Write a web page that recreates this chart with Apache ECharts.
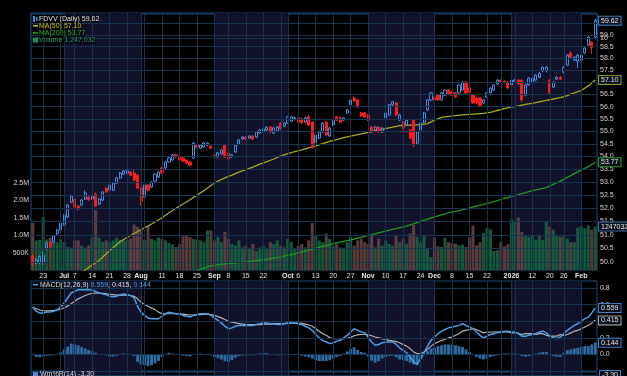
<!DOCTYPE html>
<html>
<head>
<meta charset="utf-8">
<script src="https://cdn.jsdelivr.net/npm/echarts@6/dist/echarts.min.js"></script>
<style>
  html, body { margin: 0; padding: 0; background: #000; }
  #chart { width: 627px; height: 376px; }
</style>
</head>
<body>
<div id="chart"></div>
<script>
// trading days, Jun 17 2025 .. Feb 6 2026
const dates = [
  '06-17','06-18','06-20','06-23','06-24','06-25','06-26','06-27','06-30',
  '07-01','07-02','07-03','07-07','07-08','07-09','07-10','07-11','07-14','07-15','07-16','07-17','07-18','07-21','07-22','07-23','07-24','07-25','07-28','07-29','07-30','07-31',
  '08-01','08-04','08-05','08-06','08-07','08-08','08-11','08-12','08-13','08-14','08-15','08-18','08-19','08-20','08-21','08-22','08-25','08-26','08-27','08-28','08-29',
  '09-02','09-03','09-04','09-05','09-08','09-09','09-10','09-11','09-12','09-15','09-16','09-17','09-18','09-19','09-22','09-23','09-24','09-25','09-26','09-29','09-30',
  '10-01','10-02','10-03','10-06','10-07','10-08','10-09','10-10','10-13','10-14','10-15','10-16','10-17','10-20','10-21','10-22','10-23','10-24','10-27','10-28','10-29','10-30','10-31',
  '11-03','11-04','11-05','11-06','11-07','11-10','11-11','11-12','11-13','11-14','11-17','11-18','11-19','11-20','11-21','11-24','11-25','11-26','11-28',
  '12-01','12-02','12-03','12-04','12-05','12-08','12-09','12-10','12-11','12-12','12-15','12-16','12-17','12-18','12-19','12-22','12-23','12-24','12-26','12-29','12-30','12-31',
  '01-02','01-05','01-06','01-07','01-08','01-09','01-12','01-13','01-14','01-15','01-16','01-20','01-21','01-22','01-23','01-26','01-27','01-28','01-29','01-30',
  '02-02','02-03','02-04','02-05','02-06'
];

const opens = [
  50.22,49.96,49.98,50.00,50.52,50.72,50.74,51.04,51.18,51.37,
  51.67,52.23,52.35,52.08,52.12,52.35,52.42,52.35,52.54,52.16,
  52.31,52.77,52.69,52.69,52.96,53.16,53.31,53.35,53.39,53.35,
  53.27,52.77,52.42,52.89,52.81,53.04,53.20,53.55,53.55,53.78,
  53.86,54.06,53.98,53.94,53.86,53.78,53.94,54.45,54.33,54.37,
  54.45,54.41,54.06,53.98,54.10,54.45,54.14,53.98,54.18,54.49,
  54.69,54.77,54.73,54.81,54.77,54.93,54.97,55.05,55.17,54.93,
  55.01,55.33,55.21,55.33,55.41,55.50,55.54,55.50,55.37,55.58,
  55.37,54.53,54.73,54.97,55.37,54.81,55.25,55.58,55.54,55.45,
  55.74,56.07,56.35,56.27,55.74,55.74,55.66,55.17,55.05,55.17,
  54.97,55.54,55.66,56.07,56.15,55.45,55.37,55.25,55.05,55.45,
  54.53,55.05,55.37,55.86,56.27,56.39,56.47,56.27,56.47,56.68,
  56.60,56.56,56.56,56.68,57.01,56.76,56.47,56.35,56.35,56.15,
  56.39,56.56,56.68,56.93,57.09,57.05,57.01,56.89,57.01,57.09,
  57.09,56.47,56.89,57.01,57.09,57.21,57.47,57.47,57.09,56.80,
  57.13,57.21,57.42,57.72,58.23,57.93,57.88,57.93,58.23,58.57,
  58.70,58.91
];
const closes = [
  49.92,50.07,50.20,50.26,50.70,50.56,50.96,51.18,51.44,51.74,
  52.12,52.46,52.04,51.97,52.31,52.58,52.31,52.46,52.08,52.35,
  52.62,52.62,52.89,52.96,53.16,53.35,53.43,53.43,53.27,53.08,
  52.77,52.27,52.89,52.69,53.00,53.31,53.39,53.35,53.78,53.94,
  54.06,53.98,53.86,53.82,53.74,53.66,54.53,54.37,54.45,54.53,
  54.53,54.33,53.98,54.14,54.25,53.98,53.90,54.06,54.45,54.65,
  54.77,54.69,54.81,54.69,54.97,55.05,55.09,55.17,54.97,55.13,
  55.17,55.09,55.33,55.58,55.58,55.54,55.37,55.33,55.54,55.25,
  54.37,54.85,54.97,55.33,54.85,55.13,55.45,55.45,55.37,55.54,
  55.86,56.27,56.23,55.98,55.62,55.58,55.45,54.97,55.17,54.97,
  55.13,55.74,56.07,56.19,55.66,55.66,55.13,55.45,54.73,54.45,
  54.97,55.33,55.74,56.27,56.56,56.27,56.27,56.56,56.68,56.52,
  56.47,56.39,56.89,57.01,56.56,56.56,56.15,56.15,56.02,56.27,
  56.56,56.76,56.89,57.09,57.01,57.01,56.76,57.09,57.09,56.93,
  56.27,56.89,57.17,57.17,57.30,57.38,57.63,57.63,56.56,57.01,
  57.21,57.13,57.63,58.14,58.05,58.05,58.14,58.14,58.44,58.91,
  58.44,59.62
];
const lows = [
  49.85,49.90,49.92,49.90,50.45,50.50,50.70,51.00,51.15,51.33,
  51.63,52.20,52.00,51.90,52.08,52.32,52.28,52.32,52.04,52.12,
  52.27,52.58,52.66,52.66,52.93,53.12,53.28,53.31,53.24,53.04,
  52.73,52.10,52.38,52.65,52.77,53.00,53.16,53.30,53.50,53.74,
  53.82,53.94,53.82,53.78,53.70,53.60,53.90,54.33,54.29,54.33,
  54.41,54.29,53.90,53.94,54.06,53.94,53.82,53.94,54.14,54.45,
  54.65,54.65,54.69,54.65,54.73,54.89,54.93,55.01,54.93,54.89,
  54.97,55.05,55.17,55.29,55.37,55.45,55.33,55.29,55.33,55.21,
  54.30,54.45,54.69,54.93,54.81,54.77,55.21,55.41,55.33,55.41,
  55.70,56.02,56.19,55.94,55.58,55.54,55.41,54.93,55.01,54.93,
  54.93,55.50,55.62,56.03,55.62,55.41,55.09,55.21,54.69,54.37,
  54.49,55.01,55.33,55.82,56.23,56.23,56.23,56.23,56.43,56.47,
  56.43,56.35,56.52,56.64,56.52,56.52,56.11,56.11,55.98,56.11,
  56.35,56.52,56.64,56.89,56.97,56.97,56.72,56.85,56.97,56.89,
  56.19,56.43,56.85,56.97,57.05,57.17,57.42,57.42,56.52,56.76,
  57.09,57.09,57.38,57.68,58.01,57.89,57.60,57.75,58.19,58.53,
  58.20,58.87
];
const highs = [
  50.30,50.15,50.25,50.40,50.75,50.78,51.00,51.22,51.48,51.78,
  52.16,52.52,52.40,52.12,52.35,52.68,52.46,52.50,52.60,52.39,
  52.66,52.81,52.93,53.00,53.20,53.39,53.47,53.47,53.43,53.50,
  53.31,52.81,52.93,52.93,53.04,53.35,53.43,53.60,53.82,53.98,
  54.10,54.10,54.02,53.98,53.90,53.82,54.57,54.49,54.49,54.57,
  54.57,54.45,54.10,54.18,54.29,54.49,54.18,54.10,54.49,54.69,
  54.81,54.81,54.85,54.85,55.01,55.09,55.13,55.21,55.21,55.17,
  55.21,55.37,55.37,55.62,55.62,55.60,55.58,55.54,55.60,55.66,
  55.41,54.89,55.01,55.37,55.41,55.17,55.50,55.62,55.58,55.58,
  55.90,56.31,56.43,56.31,55.78,55.78,55.70,55.21,55.21,55.21,
  55.17,55.78,56.11,56.23,56.19,55.70,55.41,55.50,55.09,55.50,
  55.01,55.37,55.78,56.31,56.60,56.43,56.52,56.60,56.72,56.72,
  56.64,56.60,56.93,57.05,57.05,56.80,56.52,56.39,56.39,56.31,
  56.60,56.80,56.93,57.13,57.13,57.09,57.05,57.13,57.13,57.13,
  57.13,56.93,57.21,57.21,57.34,57.42,57.67,57.67,57.13,57.05,
  57.25,57.25,57.67,58.18,58.30,58.09,58.18,58.18,58.48,58.95,
  58.74,59.72
];
const volumes = [
  1360000,850000,870000,1520000,880000,930000,850000,800000,880000,800000,
  660000,640000,850000,850000,700000,640000,710000,930000,1720000,930000,
  800000,850000,800000,850000,930000,870000,850000,850000,900000,1310000,
  1240000,1140000,870000,1280000,900000,850000,930000,900000,850000,780000,
  740000,660000,740000,970000,1000000,950000,900000,870000,850000,800000,
  1140000,1140000,850000,950000,800000,1100000,900000,750000,700000,850000,
  650000,700000,600000,750000,550000,650000,700000,600000,800000,750000,
  850000,700000,650000,900000,800000,600000,700000,750000,650000,850000,
  1350000,1000000,850000,800000,1050000,900000,700000,750000,650000,600000,
  800000,950000,700000,850000,900000,800000,750000,1000000,650000,900000,
  700000,850000,750000,700000,1000000,800000,900000,750000,1050000,1300000,
  950000,800000,1000000,620000,370000,930000,680000,660000,930000,800000,
  780000,760000,710000,730000,660000,930000,1280000,710000,800000,1060000,
  1210000,1160000,550000,570000,800000,680000,740000,1450000,1410000,1510000,
  1090000,1000000,950000,1000000,870000,1000000,870000,1400000,1240000,1160000,
  1000000,950000,970000,900000,800000,800000,1220000,1260000,1200000,1280000,
  1160000,1247032
];
// moving averages read at every other session: [index, value]
const ma50 = [
  [13,49.54],[15,49.71],[17,49.89],[19,50.05],[21,50.30],[23,50.52],[25,50.75],[27,50.90],[29,51.05],[31,51.19],
  [33,51.33],[35,51.48],[37,51.64],[39,51.83],[41,52.00],[43,52.16],[45,52.32],[47,52.50],[49,52.67],[51,52.87],
  [53,53.04],[55,53.16],[57,53.27],[59,53.39],[61,53.48],[63,53.58],[65,53.70],[67,53.80],[69,53.90],[71,54.02],
  [73,54.11],[75,54.19],[77,54.26],[79,54.34],[81,54.41],[83,54.51],[85,54.60],[87,54.67],[89,54.75],[91,54.81],
  [93,54.87],[95,54.93],[97,54.99],[99,55.05],[101,55.11],[103,55.17],[105,55.23],[107,55.25],[109,55.25],[111,55.27],
  [113,55.31],[115,55.45],[117,55.56],[119,55.60],[121,55.63],[123,55.66],[125,55.68],[127,55.70],[129,55.72],[131,55.76],
  [133,55.84],[135,55.92],[137,55.98],[139,56.03],[141,56.09],[143,56.13],[145,56.19],[147,56.25],[149,56.31],[151,56.37],
  [153,56.45],[155,56.56],[157,56.66],[159,56.85],[161,57.10]
];
const ma200 = [
  [47,49.70],[51,49.86],[55,49.93],[59,49.98],[63,50.03],[67,50.10],[71,50.19],[75,50.30],[79,50.44],[83,50.57],
  [87,50.70],[91,50.81],[95,50.94],[99,51.07],[103,51.20],[107,51.33],[111,51.50],[115,51.67],[119,51.82],[123,51.94],
  [127,52.08],[131,52.21],[135,52.37],[139,52.52],[143,52.67],[147,52.79],[151,53.04],[155,53.33],[159,53.60],[161,53.77]
];
const macdLine = [
  0.57,0.52,0.50,0.50,0.51,0.51,0.52,0.54,0.57,0.62,
  0.68,0.74,0.76,0.78,0.78,0.78,0.78,0.776,0.76,0.74,
  0.73,0.72,0.70,0.695,0.70,0.72,0.727,0.72,0.71,0.68,
  0.58,0.51,0.47,0.44,0.43,0.43,0.43,0.46,0.49,0.51,
  0.50,0.49,0.49,0.47,0.46,0.45,0.47,0.48,0.49,0.49,
  0.49,0.47,0.44,0.41,0.38,0.34,0.31,0.32,0.34,0.35,
  0.35,0.35,0.35,0.35,0.36,0.37,0.38,0.38,0.37,0.37,
  0.36,0.36,0.37,0.38,0.38,0.38,0.37,0.36,0.34,0.32,
  0.29,0.24,0.20,0.17,0.15,0.13,0.14,0.16,0.17,0.20,
  0.23,0.27,0.31,0.29,0.27,0.26,0.21,0.15,0.11,0.12,
  0.14,0.15,0.15,0.15,0.12,0.08,0.05,0.02,-0.03,-0.09,
  -0.12,-0.05,0.02,0.10,0.17,0.21,0.25,0.28,0.30,0.32,
  0.33,0.34,0.35,0.37,0.35,0.33,0.31,0.27,0.23,0.20,
  0.22,0.24,0.25,0.26,0.27,0.28,0.28,0.27,0.27,0.25,
  0.22,0.22,0.23,0.24,0.25,0.27,0.28,0.26,0.22,0.20,
  0.19,0.21,0.25,0.29,0.32,0.35,0.37,0.40,0.43,0.45,
  0.50,0.559
];
const signalLine = [
  0.565,0.55,0.535,0.525,0.525,0.527,0.53,0.535,0.545,0.56,
  0.585,0.61,0.64,0.67,0.69,0.71,0.725,0.735,0.74,0.74,
  0.735,0.73,0.725,0.72,0.715,0.715,0.715,0.715,0.71,0.70,
  0.67,0.63,0.60,0.58,0.56,0.54,0.51,0.49,0.49,0.49,
  0.49,0.49,0.49,0.485,0.48,0.475,0.475,0.475,0.48,0.485,
  0.485,0.48,0.47,0.455,0.44,0.42,0.40,0.39,0.38,0.37,
  0.365,0.36,0.36,0.36,0.36,0.36,0.365,0.365,0.365,0.367,
  0.37,0.372,0.372,0.375,0.377,0.378,0.378,0.375,0.365,0.355,
  0.34,0.31,0.28,0.25,0.23,0.20,0.19,0.19,0.19,0.19,
  0.195,0.205,0.225,0.235,0.24,0.24,0.235,0.225,0.21,0.20,
  0.19,0.18,0.17,0.165,0.155,0.14,0.12,0.10,0.07,0.03,
  0.01,0.01,0.03,0.06,0.10,0.13,0.15,0.17,0.18,0.20,
  0.21,0.23,0.25,0.28,0.29,0.30,0.31,0.30,0.28,0.26,
  0.27,0.27,0.27,0.27,0.27,0.27,0.27,0.26,0.26,0.255,
  0.24,0.25,0.25,0.25,0.24,0.25,0.25,0.23,0.22,0.22,
  0.22,0.24,0.23,0.24,0.26,0.28,0.29,0.31,0.33,0.35,
  0.38,0.415
];
const macdHist = [
  -0.01,-0.03,-0.035,-0.025,-0.015,-0.015,-0.01,0.005,0.025,0.06,
  0.095,0.13,0.12,0.11,0.09,0.07,0.055,0.04,0.02,0.0,
  -0.005,-0.01,-0.025,-0.025,-0.015,0.005,0.012,0.005,0.0,-0.02,
  -0.09,-0.12,-0.13,-0.14,-0.13,-0.11,-0.08,-0.03,0.0,0.02,
  0.01,0.0,0.0,-0.015,-0.02,-0.025,-0.005,0.005,0.01,0.005,
  0.005,-0.01,-0.03,-0.045,-0.06,-0.08,-0.09,-0.07,-0.04,-0.02,
  -0.015,-0.01,-0.01,-0.01,0.0,0.01,0.015,0.015,0.005,0.003,
  -0.01,-0.012,0.0,0.005,0.003,0.002,-0.008,-0.015,-0.025,-0.035,
  -0.05,-0.07,-0.08,-0.08,-0.08,-0.07,-0.05,-0.03,-0.02,0.01,
  0.035,0.065,0.085,0.055,0.03,0.02,-0.025,-0.075,-0.10,-0.08,
  -0.05,-0.03,-0.02,-0.015,-0.035,-0.06,-0.07,-0.08,-0.10,-0.12,
  -0.13,-0.06,-0.01,0.04,0.07,0.08,0.10,0.11,0.12,0.12,
  0.12,0.11,0.10,0.09,0.06,0.03,0.0,-0.03,-0.05,-0.06,
  -0.05,-0.03,-0.02,-0.01,0.0,0.01,0.01,0.01,0.01,-0.005,
  -0.02,-0.03,-0.02,-0.01,0.01,0.02,0.03,0.03,0.0,-0.02,
  -0.03,-0.03,0.02,0.05,0.06,0.07,0.08,0.09,0.10,0.10,
  0.12,0.144
];

// axis ticks
const tickIdx  = [3,9,12,17,22,27,31,37,42,47,52,56,61,66,73,76,81,86,91,96,101,106,111,115,120,125,130,137,143,148,152,157];
const tickText = ['23','Jul','7','14','21','28','Aug','11','18','25','Sep','8','15','22','Oct','6','13','20','27','Nov','10','17','24','Dec','8','15','22','2026','12','20','26','Feb'];
const boldTicks = ['Jul','Aug','Sep','Oct','Nov','Dec','2026','Feb'];
const weekIdx = [3,8,12,17,22,27,32,37,42,47,52,56,61,66,71,76,81,86,91,96,101,106,111,115,120,125,130,134,138,143,148,152,157];
const monthIdx = [9,31,52,73,96,115,137,157];
const shadedMonths = [[9,31],[52,73],[96,115],[137,157]];
const priceTicks = [50.0,50.5,51.0,51.5,52.0,52.5,53.0,53.5,54.0,54.5,55.0,55.5,56.0,56.5,57.0,57.5,58.0,58.5,59.0,59.5,60.0];
const macdTicks = [0.0,0.2,0.4,0.6,0.8];
const topTicks = [10,20];
const wmValue = -3.30;

const GRID = '#163452';
const BORDER = '#1f4a78';
const SHADE = '#12112a';
const TXT = '#d4d4d4';
const FONT = 'Liberation Sans, Arial, sans-serif';
const last = dates.length - 1;

const candleData = dates.map((d, i) => [opens[i], closes[i], lows[i], highs[i]]);
const volData = volumes.map((v, i) => ({
  value: v,
  itemStyle: { color: closes[i] >= opens[i] ? 'rgba(24,110,70,0.8)' : 'rgba(112,74,74,0.8)' },
}));

const vLineIdx = Array.from(new Set(weekIdx.concat(monthIdx))).sort((a, b) => a - b);

// month shading + grid lines behind each panel (lines drawn over the shading)
function bgSeries(xi, yi, hLines, withLabels) {
  return {
    type: 'line', xAxisIndex: xi, yAxisIndex: yi, data: [], silent: true, z: 0,
    markArea: {
      silent: true, itemStyle: { color: SHADE },
      data: shadedMonths.map(([a, b]) => [{ xAxis: a }, { xAxis: b }]),
    },
    markLine: {
      silent: true, symbol: ['none', 'none'], animation: false,
      lineStyle: { color: GRID, width: 1, type: 'solid' },
      label: {
        show: !!withLabels, position: 'end', distance: 3, color: TXT, fontSize: 7, fontFamily: FONT,
        formatter: (p) => p.value.toFixed(1),
      },
      data: vLineIdx.map((i) => ({ xAxis: i, label: { show: false } }))
        .concat((hLines || []).map((v) => ({ yAxis: v }))),
    },
  };
}

function valueBox(value, text, border) {
  return {
    silent: true, symbol: ['none', 'none'], animation: false,
    lineStyle: { color: 'rgba(0,0,0,0)', width: 1 },
    label: {
      show: true, position: 'end', distance: 2, formatter: text,
      color: '#e8e8e8', fontSize: 7, fontFamily: FONT,
      backgroundColor: '#08101c', borderColor: border, borderWidth: 1, padding: [1, 2, 0, 2],
    },
    data: [{ yAxis: value }],
  };
}

function catAxis(gi, showLabels) {
  return {
    type: 'category', gridIndex: gi, data: dates, boundaryGap: true,
    axisLine: { show: false }, axisTick: { show: false }, splitLine: { show: false },
    axisLabel: showLabels ? {
      show: true, margin: 3, fontSize: 7, fontFamily: FONT, color: '#e0e0e0',
      interval: (idx) => tickIdx.includes(idx),
      formatter: (v, idx) => {
        const t = tickText[tickIdx.indexOf(idx)];
        return boldTicks.includes(t) ? '{b|' + t + '}' : t;
      },
      rich: { b: { fontWeight: 'bold', fontSize: 7, fontFamily: FONT, color: '#e8e8e8' } },
    } : { show: false },
  };
}

const gridBase = { left: 31, right: 30, show: true, backgroundColor: '#000', borderColor: BORDER, borderWidth: 1 };

const option = {
  backgroundColor: '#000',
  animation: false,
  textStyle: { fontFamily: FONT },
  grid: [
    Object.assign({ top: -97, height: 110 }, gridBase),
    Object.assign({ top: 14, height: 256 }, gridBase),
    Object.assign({ top: 281, height: 90 }, gridBase),
    Object.assign({ top: 372, height: 60 }, gridBase),
  ],
  xAxis: [catAxis(0, false), catAxis(1, true), catAxis(2, false), catAxis(3, false)],
  yAxis: [
    {
      type: 'value', gridIndex: 0, position: 'right', min: 0, max: 100, interval: 10,
      axisLine: { show: false }, axisTick: { show: false }, splitLine: { show: false },
      axisLabel: { fontSize: 7, color: TXT, margin: 3, formatter: (v) => (v === 10 ? '10' : '') },
    },
    { type: 'log', logBase: 10, gridIndex: 1, min: 49.71, max: 59.91, show: false },
    {
      type: 'value', gridIndex: 1, position: 'left', min: 0, max: 7360000, interval: 500000,
      axisLine: { show: false }, axisTick: { show: false }, splitLine: { show: false },
      axisLabel: {
        fontSize: 7, color: TXT, margin: 2,
        formatter: (v) => (v <= 0 || v > 2500001 ? '' : v >= 1e6 ? (v / 1e6).toFixed(1) + 'M' : v / 1e3 + 'K'),
      },
    },
    {
      type: 'value', gridIndex: 2, position: 'right', min: -0.2, max: 0.885, interval: 0.2,
      axisLine: { show: false }, axisTick: { show: false }, splitLine: { show: false },
      axisLabel: { fontSize: 7, color: TXT, margin: 3, formatter: (v) => (v < -0.01 || v > 0.81 ? '' : v.toFixed(1)) },
    },
    { type: 'value', gridIndex: 3, min: -100, max: 0, show: false },
  ],
  series: [
    bgSeries(0, 0, topTicks),
    bgSeries(1, 1, priceTicks, true),
    bgSeries(2, 3, macdTicks),
    bgSeries(3, 4, [-20]),
    {
      name: 'Volume', type: 'bar', xAxisIndex: 1, yAxisIndex: 2, data: volData, z: 1,
      barCategoryGap: '12%', silent: true,
      markLine: valueBox(volumes[last], String(volumes[last]), '#3a6fa8'),
    },
    {
      name: 'MA(200)', type: 'line', xAxisIndex: 1, yAxisIndex: 1, data: ma200, z: 2,
      showSymbol: false, connectNulls: true, lineStyle: { color: '#1f9a1f', width: 1.3 },
      markLine: valueBox(ma200[ma200.length - 1][1], ma200[ma200.length - 1][1].toFixed(2), '#1f9a1f'),
    },
    {
      name: 'MA(50)', type: 'line', xAxisIndex: 1, yAxisIndex: 1, data: ma50, z: 2,
      showSymbol: false, connectNulls: true, lineStyle: { color: '#a9a81c', width: 1.3 },
      markLine: valueBox(ma50[ma50.length - 1][1], ma50[ma50.length - 1][1].toFixed(2), '#9a9a20'),
    },
    {
      name: 'FDVV', type: 'candlestick', xAxisIndex: 1, yAxisIndex: 1, data: candleData, z: 4,
      barWidth: 2.6,
      itemStyle: {
        color: 'rgba(0,0,0,0.3)', borderColor: '#3f8fe0',
        color0: '#ff1a1a', borderColor0: '#ff1a1a', borderWidth: 1,
      },
      markLine: valueBox(closes[last], closes[last].toFixed(2), '#3f7fc0'),
    },
    {
      name: 'Hist', type: 'bar', xAxisIndex: 2, yAxisIndex: 3, data: macdHist, z: 1,
      barCategoryGap: '18%', itemStyle: { color: '#2e6da4' },
      markLine: valueBox(macdHist[last], macdHist[last].toFixed(3), '#3f7fc0'),
    },
    {
      name: 'Signal', type: 'line', xAxisIndex: 2, yAxisIndex: 3, data: signalLine, z: 2,
      showSymbol: false, lineStyle: { color: '#b4b4b4', width: 1.2 },
      markLine: valueBox(signalLine[last], signalLine[last].toFixed(3), '#aaaaaa'),
    },
    {
      name: 'MACD', type: 'line', xAxisIndex: 2, yAxisIndex: 3, data: macdLine, z: 3,
      showSymbol: false, lineStyle: { color: '#4a9ee6', width: 1.5 },
      markLine: valueBox(macdLine[last], macdLine[last].toFixed(3), '#3f7fc0'),
    },
  ],
  graphic: [
    // price panel legend
    { type: 'rect', shape: { x: 33, y: 16, width: 2, height: 6 }, style: { fill: '#3f8fe0' }, z: 10 },
    { type: 'rect', shape: { x: 36, y: 17, width: 1.5, height: 4 }, style: { fill: '#3f8fe0' }, z: 10 },
    { type: 'rect', shape: { x: 33, y: 25, width: 5, height: 1.5 }, style: { fill: '#c8c820' }, z: 10 },
    { type: 'rect', shape: { x: 33, y: 32.3, width: 5, height: 1.5 }, style: { fill: '#22aa22' }, z: 10 },
    { type: 'rect', shape: { x: 33, y: 37.5, width: 5, height: 5 }, style: { fill: '#1a8a5a' }, z: 10 },
    {
      type: 'text', x: 39, y: 19, z: 10,
      style: { text: 'FDVV (Daily) ' + closes[last].toFixed(2), fill: '#e0e0e0', font: '7px ' + FONT, verticalAlign: 'middle', backgroundColor: 'rgba(0,0,0,0.55)' },
    },
    {
      type: 'text', x: 39, y: 25.8, z: 10,
      style: { text: 'MA(50) ' + ma50[ma50.length - 1][1].toFixed(2), fill: '#c8c820', font: '7px ' + FONT, verticalAlign: 'middle', backgroundColor: 'rgba(0,0,0,0.55)' },
    },
    {
      type: 'text', x: 39, y: 33, z: 10,
      style: { text: 'MA(200) ' + ma200[ma200.length - 1][1].toFixed(2), fill: '#22b022', font: '7px ' + FONT, verticalAlign: 'middle', backgroundColor: 'rgba(0,0,0,0.55)' },
    },
    {
      type: 'text', x: 39, y: 40.3, z: 10,
      style: { text: 'Volume ' + volumes[last].toLocaleString('en-US'), fill: '#1fa070', font: '7px ' + FONT, verticalAlign: 'middle', backgroundColor: 'rgba(0,0,0,0.55)' },
    },
    // MACD legend
    { type: 'rect', shape: { x: 33, y: 284, width: 5, height: 1.5 }, style: { fill: '#4a9ee6' }, z: 10 },
    {
      type: 'text', x: 40, y: 284.8, z: 10,
      style: {
        text: '{a|MACD(12,26,9)} {b|' + macdLine[last].toFixed(3) + '}{a|, ' + signalLine[last].toFixed(3) + ', }{b|' + macdHist[last].toFixed(3) + '}',
        verticalAlign: 'middle', font: '7px ' + FONT,
        rich: { a: { fill: '#d8d8d8', fontSize: 7, fontFamily: FONT }, b: { fill: '#4a9ee6', fontSize: 7, fontFamily: FONT } },
      },
    },
    // Williams %R legend (panel mostly cut off)
    { type: 'rect', shape: { x: 33, y: 372, width: 5, height: 4 }, style: { fill: '#3f8fe0' }, z: 10 },
    {
      type: 'text', x: 40, y: 374.5, z: 10,
      style: { text: 'Wm%R(14) ' + wmValue.toFixed(2), fill: '#d8d8d8', font: '7px ' + FONT, verticalAlign: 'middle' },
    },
    {
      type: 'text', x: 600, y: 375, z: 10,
      style: { text: wmValue.toFixed(2), fill: '#e8e8e8', font: '7px ' + FONT, verticalAlign: 'middle', backgroundColor: '#08101c', borderColor: '#3f7fc0', borderWidth: 1, padding: [1, 2, 0, 2] },
    },
  ],
};

const chart = echarts.init(document.getElementById('chart'), null, { renderer: 'canvas' });
chart.setOption(option);
</script>
</body>
</html>
